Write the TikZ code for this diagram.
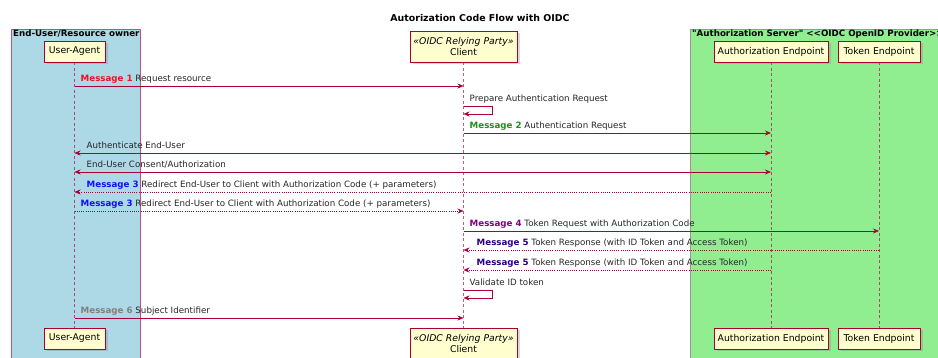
\documentclass[tikz,border=0pt]{standalone}
\usepackage{fontspec}
\setmainfont{DejaVu Sans}[Ligatures=TeXOff]
\usetikzlibrary{arrows.meta,shadows,backgrounds}

\definecolor{plred}{HTML}{A80036}
\definecolor{plfill}{HTML}{FEFECE}
\definecolor{userbg}{HTML}{ADD8E6}
\definecolor{authbg}{HTML}{90EE90}
\definecolor{userline}{HTML}{C0507E}
\definecolor{authline}{HTML}{A89090}
\definecolor{mone}{HTML}{F0102A}
\definecolor{mtwo}{HTML}{228B22}
\definecolor{mthree}{HTML}{1010FF}
\definecolor{mfour}{HTML}{800080}
\definecolor{mfive}{HTML}{280082}
\definecolor{msix}{HTML}{808080}

\newcommand{\msgno}[2]{\textbf{\color{#1}Message #2}}

\begin{document}
\begin{tikzpicture}[x=1pt, y=-1pt,
  part/.style={draw=plred, fill=plfill, line width=0.9pt, minimum height=21pt, inner sep=2pt,
    font=\fontsize{9.3}{11}\selectfont,
    drop shadow={opacity=0.3, shadow xshift=2.5pt, shadow yshift=-2.5pt}},
  life/.style={draw=plred, draw opacity=0.65, dash pattern=on 3pt off 2.5pt, line width=0.6pt},
  msg/.style={draw=plred, line width=0.6pt, -{Stealth[length=6pt,width=5pt,inset=2pt]}},
  both/.style={msg, {Stealth[length=6pt,width=5pt,inset=2pt]}-{Stealth[length=6pt,width=5pt,inset=2pt]}},
  reply/.style={msg, dash pattern=on 1pt off 1.2pt},
  lbl/.style={anchor=base west, inner sep=0pt, font=\fontsize{8.7}{10}\selectfont, text=black!85},
  boxtitle/.style={anchor=west, inner sep=0pt, font=\bfseries\fontsize{8.7}{10}\selectfont}]
\useasboundingbox (0,0) rectangle (938,358);
\clip (0,0) rectangle (938,358);

% Title
\node[font=\bfseries\fontsize{9.4}{11}\selectfont] (title) at (480,18) {Autorization Code Flow with OIDC};

% Participants (top row)
\node[part, minimum width=61pt] (ua) at (74.5,51.5) {User-Agent};
\node[part, minimum width=107pt, minimum height=31pt, align=center] (cl) at (463.5,46.5) {\itshape «OIDC Relying Party»\\Client};
\node[part, minimum width=114pt] (ae) at (771,51.5) {Authorization Endpoint};
\node[part, minimum width=82pt] (te) at (879,51.5) {Token Endpoint};

% Participants (bottom row)
\node[part, minimum width=61pt] (uab) at (74.5,338.5) {User-Agent};
\node[part, minimum width=107pt, minimum height=31pt, align=center] (clb) at (463.5,343.5) {\itshape «OIDC Relying Party»\\Client};
\node[part, minimum width=114pt] (aeb) at (771,338.5) {Authorization Endpoint};
\node[part, minimum width=82pt] (teb) at (879,338.5) {Token Endpoint};

% Boxes and lifelines
\begin{scope}[on background layer]
\draw[draw=userline, fill=userbg, line width=0.9pt] (11,29) rectangle (140,370);
\draw[draw=authline, fill=authbg, line width=0.9pt] (690,29) rectangle (960,370);
\node[boxtitle] (ubox) at (13,34) {End-User/Resource owner};
\node[boxtitle] (abox) at (692,34) {"Authorization Server" <<OIDC OpenID Provider>>};
\draw[life] (ua) -- (uab);
\draw[life] (cl) -- (clb);
\draw[life] (ae) -- (aeb);
\draw[life] (te) -- (teb);
\end{scope}

% Messages
\draw[msg] (ua |- 0,86) -- (cl |- 0,86);
\node[lbl] (l1) at ([xshift=6pt]ua |- 0,82) {\msgno{mone}{1} Request resource};

\draw[msg] (cl |- 0,106) -- ++(29,0) -- ++(0,8) -- (cl |- 0,114);
\node[lbl] (l2) at ([xshift=6pt]cl |- 0,102) {Prepare Authentication Request};

\draw[msg] (cl |- 0,133) -- (ae |- 0,133);
\node[lbl] (l3) at ([xshift=6pt]cl |- 0,129) {\msgno{mtwo}{2} Authentication Request};

\draw[both] (ae |- 0,153) -- (ua |- 0,153);
\node[lbl] (l4) at ([xshift=12pt]ua |- 0,149) {Authenticate End-User};

\draw[both] (ua |- 0,172) -- (ae |- 0,172);
\node[lbl] (l5) at ([xshift=12pt]ua |- 0,168) {End-User Consent/Authorization};

\draw[reply] (ae |- 0,192) -- (ua |- 0,192);
\node[lbl] (l6) at ([xshift=12pt]ua |- 0,188) {\msgno{mthree}{3} Redirect End-User to Client with Authorization Code (+ parameters)};

\draw[reply] (ua |- 0,211) -- (cl |- 0,211);
\node[lbl] (l7) at ([xshift=6pt]ua |- 0,207) {\msgno{mthree}{3} Redirect End-User to Client with Authorization Code (+ parameters)};

\draw[msg] (cl |- 0,231) -- (te |- 0,231);
\node[lbl] (l8) at ([xshift=6pt]cl |- 0,227) {\msgno{mfour}{4} Token Request with Authorization Code};

\draw[reply] (te |- 0,250) -- (cl |- 0,250);
\node[lbl] (l9) at ([xshift=13pt]cl |- 0,246) {\msgno{mfive}{5} Token Response (with ID Token and Access Token)};

\draw[reply] (ae |- 0,270) -- (cl |- 0,270);
\node[lbl] (l10) at ([xshift=13pt]cl |- 0,266) {\msgno{mfive}{5} Token Response (with ID Token and Access Token)};

\draw[msg] (cl |- 0,290) -- ++(29,0) -- ++(0,8) -- (cl |- 0,298);
\node[lbl] (l11) at ([xshift=6pt]cl |- 0,286) {Validate ID token};

\draw[msg] (ua |- 0,318) -- (cl |- 0,318);
\node[lbl] (l12) at ([xshift=6pt]ua |- 0,314) {\msgno{msix}{6} Subject Identifier};
\end{tikzpicture}
\end{document}
